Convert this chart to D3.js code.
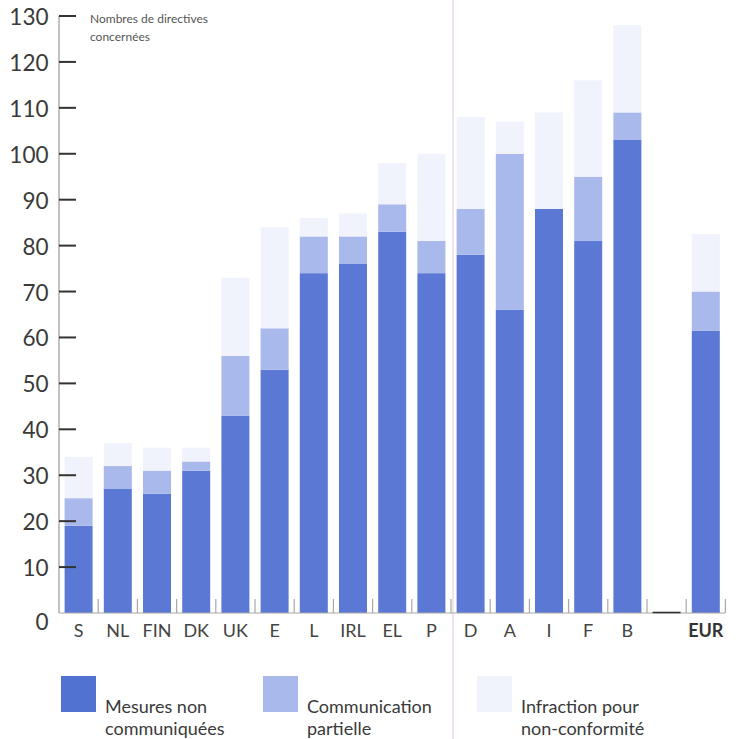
<!DOCTYPE html>
<html>
<head>
<meta charset="utf-8">
<script src="https://cdn.jsdelivr.net/npm/d3@7/dist/d3.min.js"></script>
<style>
  html, body { margin: 0; padding: 0; background: #fff; }
  svg { display: block; }
  text { font-family: Lato, "Open Sans", sans-serif; }
</style>
</head>
<body>
<svg id="chart" width="741" height="739"></svg>
<script>
// ---- Data ----
const categories = ["S","NL","FIN","DK","UK","E","L","IRL","EL","P","D","A","I","F","B","","EUR"];
const mesuresNonCommuniquees = [19,27,26,31,43,53,74,76,83,74,78,66,88,81,103,0,61.5];
const communicationPartielle = [6,5,5,2,13,9,8,6,6,7,10,34,0,14,6,0,8.5];
const infractionNonConformite = [9,5,5,3,17,22,4,5,9,19,20,7,21,21,19,0,12.5];
const seriesKeys = ["mesures","partielle","infraction"];
const seriesLabels = [["Mesures non","communiquées"],["Communication","partielle"],["Infraction pour","non-conformité"]];
const yTickValues = [0,10,20,30,40,50,60,70,80,90,100,110,120,130];
const axisTitle = ["Nombres de directives","concernées"];

const colors = { mesures: "#5b79d4", partielle: "#a9b9ec", infraction: "#f0f3fc" };

const rows = categories.map((c, i) => ({
  cat: c,
  mesures: mesuresNonCommuniquees[i],
  partielle: communicationPartielle[i],
  infraction: infractionNonConformite[i]
}));

const svg = d3.select("#chart");

// decorative scan fold line
svg.append("line").attr("x1", 453).attr("x2", 453).attr("y1", 0).attr("y2", 739)
  .attr("stroke", "#eedbf0").attr("stroke-width", 1.5);

const x = d3.scaleBand().domain(categories).range([59, 725.4])
  .paddingInner(0.2857).paddingOuter(0.1429);
const y = d3.scaleLinear().domain([0, 130]).range([613, 16]);

const stacked = d3.stack().keys(seriesKeys)(rows);

// bars
const layers = svg.append("g").selectAll("g").data(stacked).join("g")
  .attr("fill", d => colors[d.key]);
layers.selectAll("rect").data(d => d.filter(p => p[1] - p[0] > 0))
  .join("rect")
  .attr("x", d => x(d.data.cat))
  .attr("width", x.bandwidth())
  .attr("y", d => y(d[1]))
  .attr("height", d => y(d[0]) - y(d[1]));

// x axis line
svg.append("line").attr("x1", 59).attr("x2", 725).attr("y1", y(0)).attr("y2", y(0))
  .attr("stroke", "#a8a8a8").attr("stroke-width", 1.2);

// placeholder segment for the empty slot
rows.filter(r => r.cat === "").forEach(r => {
  svg.append("line")
    .attr("x1", x(r.cat)).attr("x2", x(r.cat) + x.bandwidth())
    .attr("y1", y(0) - 0.5).attr("y2", y(0) - 0.5)
    .attr("stroke", "#333").attr("stroke-width", 1.6);
});

// separators between slots
const step = x.step();
svg.append("g").selectAll("line").data(categories).join("line")
  .attr("x1", d => x(d) + x.bandwidth() + (step - x.bandwidth()) / 2)
  .attr("x2", d => x(d) + x.bandwidth() + (step - x.bandwidth()) / 2)
  .attr("y1", y(0)).attr("y2", y(0) - 14)
  .attr("stroke", "#a8a8a8").attr("stroke-width", 1.2);

// x labels
svg.append("g").selectAll("text").data(categories).join("text")
  .attr("x", d => x(d) + x.bandwidth() / 2)
  .attr("y", 637)
  .attr("text-anchor", "middle")
  .attr("font-size", 18)
  .attr("font-weight", d => d === "EUR" ? 700 : 400)
  .attr("fill", d => d === "EUR" ? "#333" : "#444")
  .text(d => d);

// y axis line
svg.append("line").attr("x1", 59).attr("x2", 59).attr("y1", y(130)).attr("y2", y(0))
  .attr("stroke", "#999").attr("stroke-width", 1.2);

// y ticks (inward)
svg.append("g").selectAll("line").data(yTickValues.filter(v => v > 0)).join("line")
  .attr("x1", 59).attr("x2", 76)
  .attr("y1", d => y(d)).attr("y2", d => y(d))
  .attr("stroke", "#333").attr("stroke-width", 2);

// y labels
svg.append("g").selectAll("text").data(yTickValues).join("text")
  .attr("x", 48.5)
  .attr("y", d => y(d) + (d === 0 ? 16.5 : 9))
  .attr("text-anchor", "end")
  .attr("font-size", 22.5)
  .attr("fill", "#3a3a3a")
  .text(d => d);

// axis title
svg.append("text").attr("x", 90).attr("y", 22.5)
  .attr("font-size", 12).attr("fill", "#555")
  .selectAll("tspan").data(axisTitle).join("tspan")
  .attr("x", 90).attr("dy", (d, i) => i === 0 ? 0 : 18)
  .text(d => d);

// legend
const legendX = [61, 263, 477];
const legend = svg.append("g").selectAll("g").data(seriesKeys).join("g")
  .attr("transform", (d, i) => `translate(${legendX[i]},676)`);
legend.append("rect").attr("width", 35).attr("height", 36)
  .attr("fill", d => d === "mesures" ? "#5272d1" : colors[d]);
legend.append("text").attr("x", 44).attr("y", 36.5)
  .attr("font-size", 18).attr("fill", "#3a3a3a")
  .selectAll("tspan").data((d, i) => seriesLabels[i]).join("tspan")
  .attr("x", 44).attr("dy", (d, i) => i === 0 ? 0 : 22.5)
  .text(d => d);
</script>
</body>
</html>
